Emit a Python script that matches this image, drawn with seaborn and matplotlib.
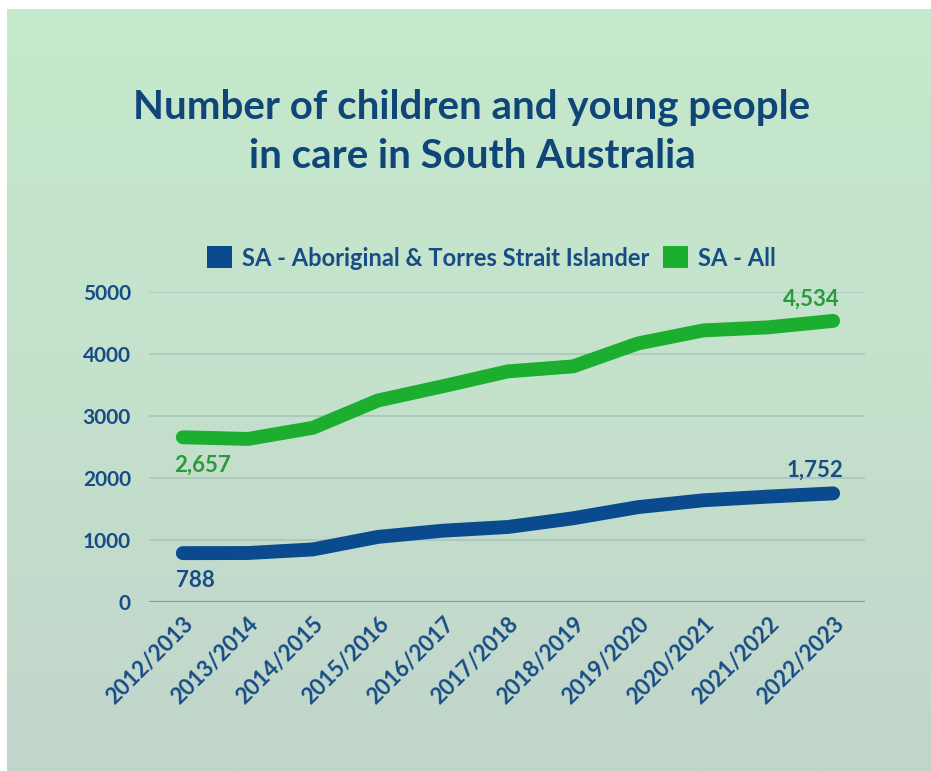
import numpy as np
import pandas as pd
import matplotlib
matplotlib.use("Agg")
import matplotlib.pyplot as plt
from matplotlib.patches import Patch
from matplotlib.colors import LinearSegmentedColormap
import seaborn as sns

# ---- data -------------------------------------------------------------
years = ["2012/2013", "2013/2014", "2014/2015", "2015/2016", "2016/2017",
         "2017/2018", "2018/2019", "2019/2020", "2020/2021", "2021/2022",
         "2022/2023"]
sa_atsi = [788, 790, 848, 1050, 1150, 1210, 1350, 1530, 1640, 1700, 1752]
sa_all = [2657, 2630, 2810, 3250, 3480, 3720, 3800, 4170, 4380, 4430, 4534]
series_names = ["SA - Aboriginal & Torres Strait Islander", "SA - All"]
y_ticks = [0, 1000, 2000, 3000, 4000, 5000]

# ---- styling ----------------------------------------------------------
BLUE = "#0a4b8f"
BLUE_TXT = "#174c86"
GREEN = "#1bae2f"
GREEN_TXT = "#2a9b3a"
TITLE = "#0f4677"
GRID = "#a7c3b9"
FONT = ["Lato", "DejaVu Sans"]
WEIGHT = "bold"

sns.set_theme(style="white")
plt.rcParams["font.family"] = FONT
plt.rcParams["font.weight"] = WEIGHT

W, H = 931, 771
fig = plt.figure(figsize=(W / 100, H / 100), dpi=100)
fig.patch.set_facecolor("white")

# soft green panel with a vertical gradient
bg = fig.add_axes([7 / W, 0, 1 - 7 / W, 1 - 9 / H])
bg.set_axis_off()
cmap = LinearSegmentedColormap.from_list("panel", ["#c5eacd", "#c4e1cc", "#c1d5cb"])
grad = np.linspace(0, 1, 256).reshape(-1, 1)
bg.imshow(grad, aspect="auto", cmap=cmap, extent=[0, 1, 0, 1])
bg.set_zorder(0)

# ---- main plot --------------------------------------------------------
ax = fig.add_axes([149 / W, 1 - 602 / H, (865 - 149) / W, (602 - 292) / H])
ax.set_zorder(1)
ax.patch.set_alpha(0)

df = pd.DataFrame({
    "year": years * 2,
    "pos": list(range(len(years))) * 2,
    "value": sa_atsi + sa_all,
    "series": [series_names[0]] * len(years) + [series_names[1]] * len(years),
})

sns.lineplot(data=df, x="pos", y="value", hue="series",
             palette={series_names[0]: BLUE, series_names[1]: GREEN},
             linewidth=10, ax=ax, legend=False, sort=False)
for ln in ax.lines:
    ln.set_solid_capstyle("round")
    ln.set_solid_joinstyle("round")
    ln.set_clip_on(False)
    ln.set_zorder(3)

ax.set_xlim(-0.52, len(years) - 1 + 0.49)
ax.set_ylim(0, 5000)
ax.set_yticks(y_ticks)
ax.set_yticklabels([str(t) for t in y_ticks])
ax.set_xticks(range(len(years)))
ax.set_xticklabels(years, rotation=45, ha="right", va="top",
                   rotation_mode="anchor")
ax.set_xlabel("")
ax.set_ylabel("")
for s in ax.spines.values():
    s.set_visible(False)

for t in y_ticks[1:]:
    ax.axhline(t, color=GRID, lw=1.1, zorder=1)
ax.axhline(0, color="#7f9f98", lw=1.6, zorder=1)

ax.tick_params(axis="y", length=0, pad=13, labelsize=15, labelcolor=BLUE_TXT)
ax.tick_params(axis="x", length=0, pad=8, labelsize=16, labelcolor=BLUE_TXT)
for lab in ax.get_xticklabels() + ax.get_yticklabels():
    lab.set_fontweight(WEIGHT)
    lab.set_family(FONT)

# value labels at first and last points
lab_kw = dict(textcoords="offset pixels", va="center", fontsize=16,
              fontweight=WEIGHT)
ax.annotate(f"{sa_all[0]:,}", (0, sa_all[0]), xytext=(-9, -28),
            ha="left", color=GREEN_TXT, **lab_kw)
ax.annotate(f"{sa_atsi[0]:,}", (0, sa_atsi[0]), xytext=(-7, -27),
            ha="left", color=BLUE_TXT, **lab_kw)
n = len(years) - 1
ax.annotate(f"{sa_all[-1]:,}", (n, sa_all[-1]), xytext=(7, 22),
            ha="right", color=GREEN_TXT, **lab_kw)
ax.annotate(f"{sa_atsi[-1]:,}", (n, sa_atsi[-1]), xytext=(10, 23),
            ha="right", color=BLUE_TXT, **lab_kw)

# ---- legend -----------------------------------------------------------
handles = [Patch(facecolor=BLUE, edgecolor="none"),
           Patch(facecolor=GREEN, edgecolor="none")]
leg = fig.legend(handles, series_names, loc="center left",
                 bbox_to_anchor=(207 / W, 1 - 258 / H), ncol=2, frameon=False,
                 fontsize=17, handlelength=1.05, handleheight=1.05,
                 handletextpad=0.45, columnspacing=0.55, borderpad=0,
                 borderaxespad=0)
for t in leg.get_texts():
    t.set_color(BLUE_TXT)
    t.set_fontweight(WEIGHT)

# ---- title ------------------------------------------------------------
title_kw = dict(ha="center", va="center", fontsize=29, fontweight=WEIGHT,
                color=TITLE)
fig.text(472 / W, 1 - 107 / H, "Number of children and young people", **title_kw)
fig.text(472 / W, 1 - 157 / H, "in care in South Australia", **title_kw)

fig.savefig("out.png", dpi=100)
